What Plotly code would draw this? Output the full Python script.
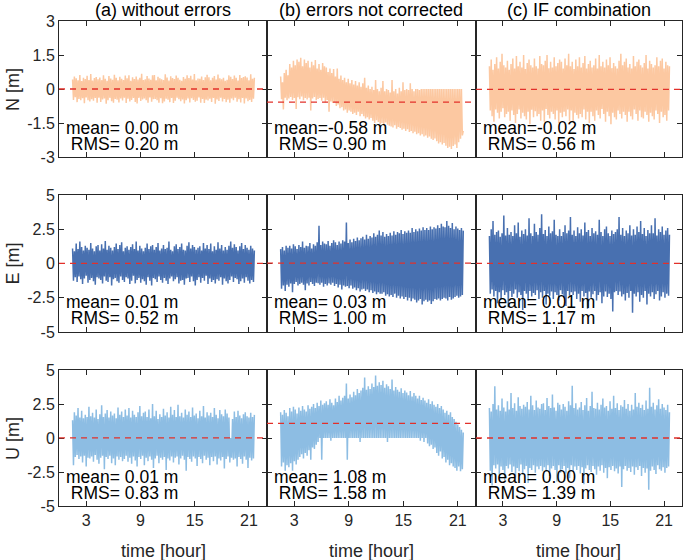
import plotly.graph_objects as go
from plotly.subplots import make_subplots

# ---------------- data ----------------
panel_titles = ["(a) without errors", "(b) errors not corrected", "(c) IF combination"]
component_labels = ["N [m]", "E [m]", "U [m]"]
x_tick_values = [3, 9, 15, 21]
x_tick_labels = ["3", "9", "15", "21"]
y_tick_values_N = [-3, -1.5, 0, 1.5, 3]
y_tick_labels_N = ["-3", "-1.5", "0", "1.5", "3"]
y_tick_values_EU = [-5, -2.5, 0, 2.5, 5]
y_tick_labels_EU = ["-5", "-2.5", "0", "2.5", "5"]
start_hour = 1.5
end_hour = 21.6

N_without_errors = [
    0.42, -0.48, 0.55, -0.36, 0.47, -0.58, 0.38, -0.44, 0.62, -0.50,
    0.35, -0.41, 0.50, -0.63, 0.44, -0.37, 0.58, -0.49, 0.40, -0.55,
    0.66, -0.45, 0.37, -0.52, 0.48, -0.40, 0.53, -0.60, 0.43, -0.38,
    0.51, -0.57, 0.39, -0.46, 0.60, -0.42, 0.45, -0.65, 0.36, -0.50,
    0.57, -0.39, 0.46, -0.54, 0.41, -0.61, 0.63, -0.44, 0.49, -0.47,
    0.38, -0.59, 0.54, -0.42, 0.45, -0.51, 0.40, -0.38, 0.59, -0.62,
    0.47, -0.43, 0.61, -0.55, 0.36, -0.48, 0.52, -0.40, 0.44, -0.57,
    0.55, -0.64, 0.42, -0.39, 0.50, -0.53, 0.67, -0.46, 0.39, -0.42,
    0.43, -0.50, 0.57, -0.61, 0.46, -0.37, 0.41, -0.56, 0.60, -0.45,
    0.62, -0.44, 0.38, -0.49, 0.54, -0.60, 0.47, -0.41, 0.43, -0.63,
    0.40, -0.55, 0.65, -0.43, 0.51, -0.47, 0.37, -0.58, 0.56, -0.40,
    0.48, -0.62, 0.44, -0.52, 0.59, -0.39, 0.50, -0.45, 0.41, -0.54,
    0.36, -0.46, 0.53, -0.64, 0.45, -0.50, 0.61, -0.42, 0.48, -0.59,
    0.58, -0.41, 0.42, -0.48, 0.66, -0.56, 0.39, -0.52, 0.46, -0.37,
    0.45, -0.60, 0.55, -0.44, 0.40, -0.62, 0.52, -0.47, 0.63, -0.51,
    0.52, -0.43, 0.38, -0.57, 0.49, -0.40, 0.57, -0.65, 0.42, -0.46,
    0.64, -0.53, 0.47, -0.38, 0.43, -0.55, 0.50, -0.44, 0.36, -0.58,
    0.41, -0.47, 0.60, -0.61, 0.54, -0.42, 0.44, -0.50, 0.59, -0.39,
    0.49, -0.56, 0.37, -0.45, 0.62, -0.59, 0.48, -0.40, 0.53, -0.64,
    0.56, -0.42, 0.51, -0.54, 0.39, -0.48, 0.65, -0.57, 0.45, -0.43,
    0.50,
]
N_not_corrected = [
    0.55, -0.45, 0.30, -0.90, 0.70, -0.38, 0.85, -0.50, 0.60, -0.42,
    1.10, -0.35, 0.95, -0.48, 1.25, -0.40, 1.05, -0.88, 1.30, -0.36,
    1.20, -0.45, 1.38, -0.33, 1.00, -0.50, 1.30, -0.40, 1.15, -0.46,
    1.25, -0.38, 0.95, -0.95, 1.20, -0.42, 1.05, -0.35, 1.28, -0.50,
    0.90, -0.44, 1.10, -0.40, 0.85, -0.52, 1.15, -0.38, 1.00, -0.60,
    0.95, -0.48, 0.75, -1.00, 0.90, -0.55, 0.70, -0.62, 0.88, -0.58,
    0.55, -0.75, 0.90, -0.68, 0.45, -0.85, 0.60, -0.80, 0.40, -0.95,
    0.50, -0.90, 0.30, -1.05, 0.45, -0.95, 0.25, -1.00, 0.40, -1.10,
    0.20, -1.05, 0.35, -1.15, 0.15, -1.00, 0.30, -1.20, 0.10, -1.10,
    0.25, -1.20, 0.50, -1.30, 0.05, -1.25, 0.15, -1.35, 0.00, -1.28,
    0.10, -1.40, -0.05, -1.50, 0.40, -1.38, 0.00, -1.45, -0.10, -1.55,
    0.05, -1.50, 0.35, -1.60, -0.10, -1.48, 0.00, -1.58, -0.05, -1.62,
    -0.15, -1.65, 0.40, -1.70, -0.10, -1.60, 0.00, -1.75, -0.20, -1.68,
    0.05, -1.72, -0.10, -1.80, 0.30, -1.75, -0.05, -1.85, 0.00, -1.78,
    -0.05, -1.90, 0.25, -1.85, 0.00, -1.95, -0.10, -1.88, 0.00, -2.00,
    0.00, -1.95, -0.05, -2.05, 0.00, -2.00, 0.00, -2.10, 0.00, -2.05,
    0.00, -2.15, 0.00, -2.10, 0.00, -2.20, 0.00, -2.25, 0.00, -2.18,
    0.00, -2.30, 0.00, -2.40, 0.00, -2.35, 0.00, -2.45, 0.00, -2.38,
    0.00, -2.50, 0.00, -2.60, 0.00, -2.55, 0.00, -2.65, 0.00, -2.52,
    0.00, -2.45, 0.00, -2.60, 0.00, -2.35, 0.00, -2.20, 0.00, -2.05,
    -1.85,
]
N_if_combination = [
    1.00, -0.95, 1.30, -1.20, 0.85, -1.45, 1.10, -0.90, 1.40, -1.05,
    0.90, -1.30, 1.20, -1.00, 1.55, -0.85, 1.05, -1.25, 0.95, -1.10,
    1.25, -1.00, 0.85, -1.40, 1.10, -0.95, 1.35, -1.15, 0.90, -1.50,
    1.45, -1.10, 1.00, -0.90, 1.20, -1.30, 0.95, -1.05, 1.50, -1.20,
    0.88, -1.35, 1.15, -1.00, 1.30, -1.55, 1.05, -0.92, 0.95, -1.25,
    1.35, -0.98, 1.00, -1.20, 0.90, -1.10, 1.45, -1.40, 1.10, -0.95,
    1.05, -1.45, 1.25, -0.88, 1.50, -1.15, 0.92, -1.30, 1.20, -1.00,
    0.95, -1.10, 1.40, -1.35, 1.00, -0.95, 1.15, -1.50, 1.30, -1.05,
    1.20, -1.25, 0.90, -1.00, 1.35, -1.20, 1.05, -0.90, 1.55, -1.40,
    1.00, -0.95, 1.20, -1.45, 0.88, -1.05, 1.30, -1.15, 1.00, -1.30,
    1.40, -1.10, 0.95, -1.25, 1.15, -0.90, 1.45, -1.35, 0.90, -1.00,
    1.10, -1.50, 1.25, -1.00, 0.95, -1.20, 1.05, -1.40, 1.35, -0.95,
    0.90, -1.15, 1.50, -1.30, 1.00, -0.88, 1.20, -1.10, 0.95, -1.45,
    1.30, -1.00, 1.05, -1.20, 1.40, -1.55, 0.92, -1.05, 1.15, -1.25,
    1.00, -1.35, 0.90, -0.95, 1.25, -1.10, 1.55, -1.30, 1.05, -1.00,
    1.20, -1.15, 1.35, -1.45, 0.95, -1.00, 1.10, -1.20, 0.90, -1.35,
    1.45, -0.90, 1.00, -1.10, 1.20, -1.40, 1.30, -0.95, 1.05, -1.25,
    0.95, -1.30, 1.15, -1.00, 1.50, -1.15, 0.90, -1.45, 1.25, -1.05,
    1.10, -1.20, 0.95, -1.35, 1.05, -0.95, 1.40, -1.10, 1.00, -1.50,
    1.25, -1.00, 1.35, -1.25, 0.90, -1.15, 1.20, -1.40, 1.05, -0.95,
    1.00,
]
E_without_errors = [
    1.10, -1.25, 0.90, -1.00, 1.45, -1.35, 1.05, -0.95, 1.60, -1.15,
    1.20, -1.50, 0.95, -1.10, 1.30, -0.90, 1.15, -1.40, 1.00, -1.20,
    1.50, -1.05, 1.10, -1.30, 0.90, -1.55, 1.25, -1.00, 1.35, -1.10,
    0.95, -1.20, 1.40, -1.45, 1.10, -0.95, 1.65, -1.25, 1.00, -1.35,
    1.30, -1.00, 1.15, -1.60, 0.95, -1.15, 1.20, -1.05, 1.45, -1.30,
    1.05, -1.40, 1.35, -0.95, 1.55, -1.20, 0.90, -1.35, 1.15, -1.00,
    1.25, -1.10, 1.00, -1.50, 1.20, -1.25, 1.40, -0.90, 1.05, -1.45,
    1.60, -1.20, 0.95, -1.05, 1.30, -1.40, 1.10, -1.15, 0.90, -1.30,
    1.15, -1.55, 1.45, -1.00, 1.05, -1.25, 1.25, -1.60, 1.35, -1.05,
    1.00, -1.15, 1.20, -1.35, 1.50, -0.95, 0.95, -1.20, 1.10, -1.40,
    1.35, -1.05, 1.05, -1.25, 1.15, -1.50, 1.60, -1.10, 1.00, -0.95,
    0.90, -1.30, 1.25, -1.15, 1.40, -1.00, 1.05, -1.45, 1.20, -1.25,
    1.45, -1.20, 1.00, -1.55, 0.95, -1.10, 1.30, -1.05, 1.55, -1.35,
    1.10, -0.95, 1.35, -1.30, 1.20, -1.60, 1.00, -1.20, 1.15, -1.00,
    1.25, -1.40, 0.95, -1.05, 1.50, -1.25, 1.10, -0.90, 1.35, -1.50,
    1.05, -1.10, 1.45, -1.35, 0.90, -1.20, 1.25, -1.45, 1.00, -1.15,
    1.55, -1.25, 1.10, -1.00, 1.35, -1.55, 0.95, -1.10, 1.20, -1.30,
    1.00, -1.45, 1.30, -1.20, 1.60, -0.95, 1.15, -1.35, 1.40, -1.05,
    1.20, -1.15, 0.95, -1.50, 1.25, -1.30, 1.50, -1.10, 1.05, -1.40,
    1.35, -1.00, 1.15, -1.25, 1.00, -1.45, 1.30, -1.20, 1.10, -1.35,
    0.95,
]
E_not_corrected = [
    1.05, -1.85, 1.20, -1.60, 0.95, -2.00, 1.30, -1.55, 1.15, -1.70,
    1.30, -1.45, 1.10, -2.10, 1.40, -1.50, 1.25, -1.35, 1.05, -1.60,
    1.35, -1.50, 1.20, -1.40, 1.60, -1.55, 1.15, -1.95, 1.30, -1.45,
    1.25, -1.60, 1.50, -1.35, 1.10, -1.50, 1.40, -1.65, 1.30, -1.40,
    1.55, -1.45, 2.75, -1.55, 1.35, -1.40, 1.60, -1.70, 1.45, -1.50,
    1.40, -1.60, 1.65, -1.45, 1.30, -1.55, 1.50, -1.40, 1.70, -1.65,
    1.55, -1.50, 1.35, -1.75, 1.60, -1.55, 1.45, -1.90, 1.70, -1.60,
    1.60, -1.70, 3.00, -1.65, 1.50, -1.80, 1.75, -1.60, 1.55, -1.85,
    1.80, -1.75, 1.65, -1.95, 1.90, -1.80, 1.70, -2.05, 1.85, -1.90,
    1.95, -1.85, 1.75, -2.00, 2.10, -1.90, 1.80, -2.10, 2.00, -1.95,
    1.90, -2.15, 2.20, -2.05, 1.95, -2.25, 2.10, -2.10, 2.40, -2.20,
    2.05, -2.20, 2.30, -2.10, 1.95, -2.35, 2.15, -2.25, 2.00, -2.40,
    2.25, -2.30, 2.05, -2.45, 2.35, -2.20, 2.10, -2.50, 2.30, -2.35,
    2.20, -2.55, 2.45, -2.40, 2.15, -2.60, 2.35, -2.45, 2.25, -2.70,
    2.40, -2.50, 2.25, -2.75, 2.60, -2.55, 2.30, -2.65, 2.50, -2.85,
    2.35, -2.70, 2.55, -2.60, 2.40, -3.00, 2.65, -2.75, 2.45, -2.65,
    2.60, -2.80, 2.45, -2.70, 2.70, -2.95, 2.50, -2.75, 2.65, -2.60,
    2.55, -2.65, 2.80, -2.55, 2.60, -2.70, 2.90, -2.60, 2.70, -2.50,
    2.65, -2.55, 3.10, -2.70, 2.75, -2.45, 2.60, -2.65, 2.95, -2.55,
    2.50, -2.45, 2.70, -2.35, 2.55, -2.50, 2.45, -2.40, 2.60, -2.30,
    2.40,
]
E_if_combination = [
    2.00, -2.20, 2.50, -1.90, 3.10, -2.40, 2.10, -2.00, 2.30, -2.90,
    2.40, -2.10, 1.95, -2.60, 2.20, -1.95, 3.50, -2.30, 2.05, -2.10,
    2.60, -3.20, 2.10, -2.00, 2.30, -2.45, 2.00, -2.20, 2.80, -1.90,
    2.20, -2.50, 3.00, -2.10, 1.95, -2.30, 2.40, -3.40, 2.15, -2.00,
    2.50, -2.20, 2.05, -2.70, 3.30, -2.00, 2.20, -2.40, 2.00, -2.15,
    2.90, -2.30, 2.30, -1.95, 2.10, -2.60, 2.60, -2.10, 3.60, -2.50,
    2.15, -2.00, 2.45, -3.00, 2.00, -2.20, 2.70, -2.35, 2.20, -2.05,
    2.35, -2.60, 3.20, -2.10, 2.10, -2.30, 2.00, -2.70, 2.50, -1.95,
    2.00, -2.25, 2.30, -2.50, 2.80, -3.10, 2.20, -2.00, 2.40, -2.35,
    3.40, -2.10, 2.10, -2.30, 2.40, -2.05, 2.00, -2.60, 2.65, -2.20,
    2.20, -2.80, 2.50, -2.00, 2.05, -2.40, 3.00, -2.15, 2.30, -3.30,
    2.45, -2.05, 2.00, -2.50, 2.60, -2.25, 2.20, -2.00, 2.35, -2.70,
    2.10, -2.30, 3.20, -2.10, 2.30, -2.90, 2.00, -2.40, 2.50, -2.05,
    2.70, -2.45, 2.20, -2.20, 2.00, -2.60, 2.40, -3.50, 2.15, -2.10,
    2.30, -2.00, 2.50, -2.30, 3.40, -2.05, 2.10, -2.40, 2.60, -2.25,
    2.00, -2.70, 2.40, -2.15, 2.20, -2.50, 2.80, -2.00, 2.05, -3.60,
    2.50, -2.20, 2.10, -2.40, 2.70, -2.10, 2.30, -2.80, 3.10, -2.30,
    2.15, -2.50, 2.60, -2.00, 2.00, -3.00, 2.45, -2.20, 2.20, -2.40,
    2.80, -2.10, 2.20, -2.60, 3.30, -2.25, 2.05, -2.00, 2.50, -2.70,
    2.30, -2.40, 2.70, -2.10, 2.10, -2.50, 2.40, -2.20, 2.60, -2.35,
    2.10,
]
U_without_errors = [
    1.30, -2.00, 1.90, -1.40, 1.65, -1.25, 2.20, -1.55, 1.50, -1.35,
    2.00, -1.80, 1.45, -1.30, 1.70, -2.10, 1.55, -1.45, 2.30, -1.50,
    1.60, -1.35, 1.85, -1.75, 1.50, -1.25, 2.10, -1.60, 1.40, -1.90,
    1.75, -1.45, 2.40, -1.30, 1.55, -2.30, 1.80, -1.40, 2.05, -1.55,
    1.50, -1.30, 1.95, -1.85, 1.65, -1.50, 1.80, -2.00, 1.45, -1.35,
    2.25, -1.60, 1.70, -1.40, 1.95, -1.70, 1.55, -1.55, 2.10, -1.30,
    1.65, -1.75, 2.20, -1.45, 1.50, -1.90, 2.00, -1.35, 1.70, -1.65,
    1.55, -2.10, 1.90, -1.40, 2.35, -1.55, 1.60, -1.30, 1.85, -2.00,
    1.95, -1.45, 1.55, -1.70, 2.10, -1.35, 1.45, -1.60, 2.50, -2.20,
    1.60, -1.50, 2.00, -1.30, 1.40, -1.85, 1.75, -1.45, 1.55, -1.60,
    2.15, -1.40, 1.65, -2.35, 1.90, -1.50, 1.50, -1.65, 2.30, -1.35,
    1.70, -1.80, 2.05, -1.45, 1.55, -1.35, 2.45, -1.95, 1.60, -1.50,
    1.85, -1.30, 1.50, -1.60, 2.10, -2.40, 1.70, -1.40, 1.95, -1.55,
    1.55, -1.75, 2.25, -1.35, 1.65, -1.50, 1.80, -2.05, 1.45, -1.40,
    2.00, -1.55, 1.60, -1.85, 2.35, -1.30, 1.50, -1.60, 1.90, -1.45,
    1.65, -2.00, 1.85, -1.40, 1.55, -1.70, 2.20, -1.35, 1.70, -1.95,
    1.45, -1.50, 2.05, -1.65, 1.75, -1.40, 1.60, -2.25, 2.10, -1.55,
    1.80, -1.35, 1.50, -1.80, 0.00, -1.45, 1.40, -1.60, 1.95, -1.50,
    1.55, -2.10, 2.00, -1.40, 1.65, -1.55, 1.45, -1.90, 1.75, -1.35,
    1.90, -1.60, 1.60, -2.20, 1.50, -1.45, 1.85, -1.65, 1.55, -1.50,
    1.70,
]
U_not_corrected = [
    1.90, -2.10, 1.70, -1.80, 2.05, -2.40, 1.85, -2.00, 1.60, -2.15,
    2.20, -1.85, 1.95, -2.40, 2.30, -1.70, 2.10, -1.95, 1.80, -1.60,
    2.25, -1.40, 2.00, -1.20, 2.35, -1.50, 2.10, -1.10, 1.95, -1.30,
    2.40, -0.90, 2.15, -1.60, 2.30, -0.70, 2.50, -0.80, 2.20, -0.50,
    2.60, -0.30, 2.35, 0.00, 2.75, -1.60, 2.45, 0.00, 2.55, 0.00,
    2.70, 0.00, 2.45, 0.00, 2.85, -0.20, 2.60, 0.00, 2.40, 0.00,
    2.90, 0.00, 2.65, 0.00, 3.10, 0.00, 2.75, 0.00, 2.95, 0.00,
    3.10, 0.00, 4.00, -1.60, 2.90, 0.00, 3.20, 0.00, 3.00, 0.00,
    3.40, 0.00, 3.15, 0.00, 3.60, 0.00, 3.30, -0.30, 3.50, 0.00,
    3.70, 0.00, 4.45, 0.00, 3.55, 0.00, 3.80, 0.00, 3.60, 0.00,
    4.00, 0.00, 3.75, 0.00, 4.60, 0.00, 3.85, 0.00, 4.10, 0.00,
    3.90, 0.00, 4.20, 0.00, 3.70, 0.00, 3.95, -0.30, 3.80, 0.00,
    3.60, 0.00, 4.30, 0.00, 3.50, 0.00, 3.75, 0.00, 3.55, 0.00,
    3.40, 0.00, 3.65, 0.00, 3.30, 0.00, 3.50, 0.00, 3.35, 0.00,
    3.15, 0.00, 3.45, 0.00, 3.05, 0.00, 3.30, 0.00, 3.10, 0.00,
    2.90, 0.00, 3.10, -0.20, 2.80, 0.00, 2.95, -0.30, 2.75, 0.00,
    2.60, -0.40, 2.85, -0.60, 2.50, -0.50, 2.70, -0.80, 2.45, -0.70,
    2.30, -1.10, 2.50, -1.30, 2.20, -1.00, 2.35, -1.50, 2.10, -1.40,
    1.85, -1.80, 2.00, -1.60, 1.70, -2.00, 1.90, -1.85, 1.55, -2.10,
    1.40, -2.20, 1.20, -2.40, 1.00, -2.10, 0.80, -2.45, 0.60, -2.30,
    0.40,
]
U_if_combination = [
    2.20, -2.40, 1.95, -3.50, 2.50, -2.00, 3.80, -2.25, 2.10, -1.95,
    2.40, -2.70, 2.00, -2.10, 2.90, -2.35, 2.25, -3.10, 1.95, -2.05,
    2.70, -2.25, 2.10, -1.95, 3.30, -2.50, 2.20, -2.10, 2.55, -2.90,
    2.00, -2.20, 3.00, -2.45, 2.35, -1.95, 2.15, -2.70, 2.45, -2.30,
    2.30, -2.05, 2.65, -3.30, 2.10, -2.20, 3.10, -2.35, 2.40, -2.00,
    2.05, -2.55, 2.75, -2.10, 2.25, -2.30, 2.15, -2.05, 2.50, -2.45,
    2.55, -2.15, 2.05, -2.45, 2.95, -2.00, 2.35, -2.80, 2.20, -2.25,
    3.20, -2.05, 2.25, -2.35, 2.00, -3.20, 2.60, -2.00, 2.45, -2.55,
    2.10, -2.30, 2.50, -2.05, 2.30, -2.60, 2.00, -2.20, 2.70, -2.95,
    2.40, -2.00, 3.85, -2.45, 2.20, -2.10, 2.55, -2.35, 2.10, -2.05,
    2.25, -2.60, 2.65, -2.15, 2.05, -3.40, 2.40, -2.25, 2.95, -2.00,
    2.00, -2.35, 2.35, -2.50, 3.40, -2.05, 2.20, -2.30, 2.15, -2.70,
    2.60, -2.10, 2.10, -2.40, 2.45, -2.00, 2.90, -2.55, 2.25, -2.20,
    2.35, -2.95, 2.00, -2.15, 2.70, -2.35, 2.15, -2.05, 3.10, -2.45,
    2.20, -2.25, 2.55, -2.60, 2.05, -2.10, 2.40, -3.60, 2.30, -2.30,
    2.80, -2.05, 2.15, -2.40, 2.50, -2.20, 2.00, -2.50, 2.45, -2.10,
    2.10, -2.70, 3.30, -2.15, 2.30, -2.35, 2.60, -2.05, 2.20, -2.80,
    2.45, -2.20, 2.05, -2.55, 2.75, -2.25, 2.15, -3.80, 3.70, -2.40,
    2.30, -2.10, 2.60, -2.35, 2.10, -2.65, 2.40, -2.00, 2.85, -2.30,
    2.15, -2.40, 2.50, -2.15, 2.25, -2.55, 2.05, -2.20, 2.45, -2.10,
    1.90,
]

mean_values = [[0.00, -0.58, -0.02], [0.01, 0.03, 0.01], [0.01, 1.08, 0.00]]
rms_values = [[0.20, 0.90, 0.56], [0.52, 1.00, 1.17], [0.83, 1.58, 1.39]]

# ---------------- figure ----------------
series_grid = [
    [N_without_errors, N_not_corrected, N_if_combination],
    [E_without_errors, E_not_corrected, E_if_combination],
    [U_without_errors, U_not_corrected, U_if_combination],
]
row_colors = ["#FCC8A1", "#4870B0", "#8DBDE3"]
axis_color = "#262626"
font_family = "Arial, Liberation Sans, Helvetica, sans-serif"

col_domains = [[0.0, 0.3339], [0.3339, 0.6693], [0.6693, 1.0]]
row_domains = [[0.7196, 1.0], [0.3588, 0.6412], [0.0, 0.2804]]

fig = make_subplots(rows=3, cols=3, horizontal_spacing=0.0, vertical_spacing=0.08)

for r in range(3):
    for c in range(3):
        vals = series_grid[r][c]
        n = len(vals)
        hours = [start_hour + (end_hour - start_hour) * i / (n - 1) for i in range(n)]
        fig.add_trace(
            go.Scatter(x=hours, y=vals, mode="lines",
                       line=dict(color=row_colors[r], width=1.5),
                       showlegend=False, hoverinfo="skip"),
            row=r + 1, col=c + 1,
        )
        idx = r * 3 + c + 1
        xref = "x" if idx == 1 else f"x{idx}"
        yref = "y" if idx == 1 else f"y{idx}"
        # mean line
        fig.add_shape(type="line", xref=f"{xref} domain", yref=yref,
                      x0=0, x1=1, y0=mean_values[r][c], y1=mean_values[r][c],
                      line=dict(color="#E2302A", width=1.3, dash="6px,5px"))
        # statistics text
        mean_txt = f"mean={mean_values[r][c]:5.2f} m".replace(" ", "\u00a0")
        rms_txt = ("\u00a0RMS=" + f"{rms_values[r][c]:5.2f}" + " m").replace(" ", "\u00a0")
        fig.add_annotation(xref=f"{xref} domain", yref=f"{yref} domain",
                           x=0.022, y=0.216, xanchor="left", yanchor="middle",
                           text=mean_txt, showarrow=False,
                           font=dict(size=17.5, color="black", family=font_family))
        fig.add_annotation(xref=f"{xref} domain", yref=f"{yref} domain",
                           x=0.022, y=0.099, xanchor="left", yanchor="middle",
                           text=rms_txt, showarrow=False,
                           font=dict(size=17.5, color="black", family=font_family))

        if r == 0:
            tv, tt, yr = y_tick_values_N, y_tick_labels_N, [-3, 3]
        else:
            tv, tt, yr = y_tick_values_EU, y_tick_labels_EU, [-5, 5]
        fig.update_xaxes(domain=col_domains[c], range=[0, 23],
                         tickvals=x_tick_values, ticktext=x_tick_labels,
                         showticklabels=(r == 2), ticks="inside", ticklen=5,
                         tickcolor=axis_color, showline=True, linecolor=axis_color,
                         linewidth=1, mirror="ticks", showgrid=False, zeroline=False,
                         tickfont=dict(size=16, color=axis_color, family=font_family),
                         row=r + 1, col=c + 1)
        fig.update_yaxes(domain=row_domains[r], range=yr,
                         tickvals=tv, ticktext=tt,
                         showticklabels=(c == 0), ticks="inside", ticklen=5,
                         tickcolor=axis_color, showline=True, linecolor=axis_color,
                         linewidth=1, mirror="ticks", showgrid=False, zeroline=False,
                         tickfont=dict(size=16, color=axis_color, family=font_family),
                         row=r + 1, col=c + 1)

# column titles and x-axis labels
for c in range(3):
    fig.add_annotation(xref="paper", yref="paper",
                       x=sum(col_domains[c]) / 2, y=1.0, xanchor="center", yanchor="bottom",
                       yshift=-1, text=panel_titles[c], showarrow=False,
                       font=dict(size=18, color="black", family=font_family))
    fig.add_annotation(xref="paper", yref="paper",
                       x=sum(col_domains[c]) / 2, y=-0.092, xanchor="center", yanchor="middle",
                       text="time [hour]", showarrow=False,
                       font=dict(size=18, color=axis_color, family=font_family))

# row labels
for r in range(3):
    fig.add_annotation(xref="paper", yref="paper",
                       x=-0.074, y=sum(row_domains[r]) / 2, xanchor="center", yanchor="middle",
                       text=component_labels[r], textangle=-90, showarrow=False,
                       font=dict(size=18, color=axis_color, family=font_family))

fig.update_layout(
    width=685, height=560,
    margin=dict(l=59, r=3, t=21, b=54),
    paper_bgcolor="white", plot_bgcolor="white",
    font=dict(family=font_family, color=axis_color),
)

# remove the default 8px page margin so the figure fills the window exactly
fig.write_html("out.html", config={"displayModeBar": False},
               post_script="document.body.style.margin='0';")
